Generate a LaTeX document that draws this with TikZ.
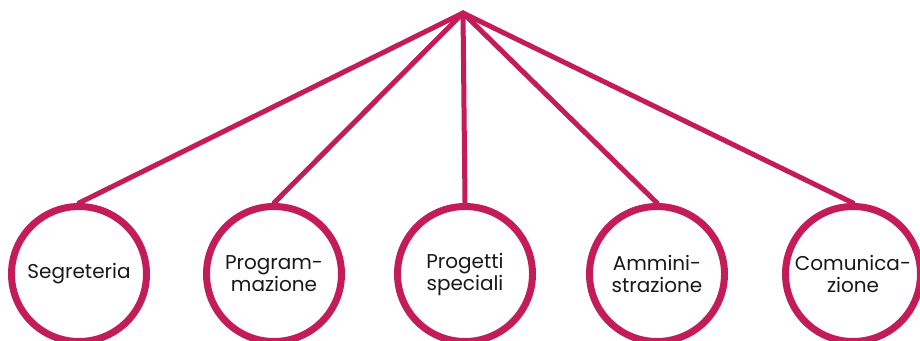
\documentclass[tikz,border=0pt]{standalone}
\usepackage{fontspec}
\setmainfont{Poppins}
\definecolor{crim}{RGB}{196,28,88}
\begin{document}
\begin{tikzpicture}[x=1pt,y=-1pt,
  link/.style={draw=crim,line width=5pt},
  unit/.style={circle,draw=crim,line width=7pt,minimum size=135pt,inner sep=0pt,fill=white,
    align=center,font=\fontsize{20}{22}\selectfont,text=black!90}]
\clip (0,0) rectangle (920,340);
\fill[white] (0,0) rectangle (920,340);
\coordinate (apex) at (463,13);
\node[unit] (s) at (79,274) {Segreteria};
\node[unit] (p) at (274,274) {Program-\\mazione};
\node[unit] (g) at (465,274) {Progetti\\speciali};
\node[unit] (a) at (657,274) {Ammini-\\strazione};
\node[unit] (c) at (853,274) {Comunica-\\zione};
\foreach \n in {s,p,g,a,c} \draw[link,line cap=round] (apex) -- (\n.north);
\end{tikzpicture}
\end{document}
